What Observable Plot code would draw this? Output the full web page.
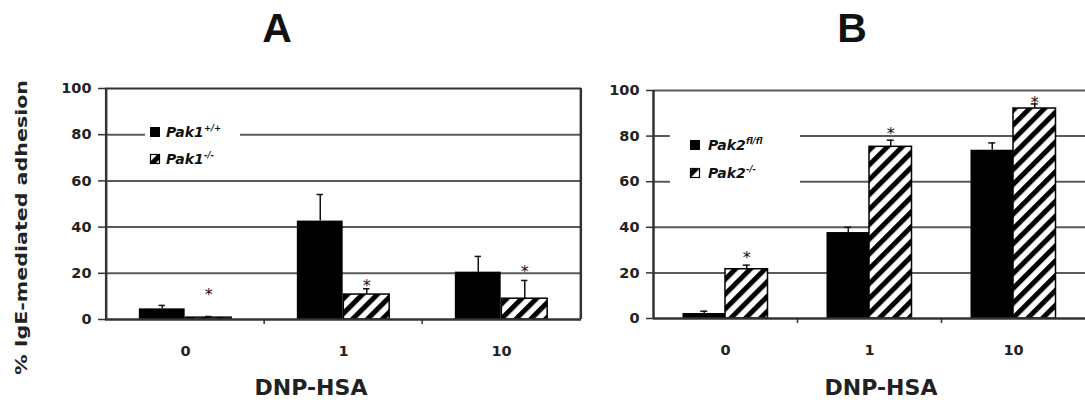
<!DOCTYPE html>
<html><head><meta charset="utf-8">
<script src="https://cdn.jsdelivr.net/npm/d3@7"></script>
<script src="https://cdn.jsdelivr.net/npm/@observablehq/plot@0.6"></script>
<style>
body{margin:0;background:#fff;}
#wrap{position:relative;width:1085px;height:407px;overflow:hidden;background:#fff;}
#wrap > svg{position:absolute;top:0;}
</style></head><body>
<div id="wrap"></div>
<script>
// ---- data ----
const doses = ["0", "1", "10"];
const pak1WT = [4.6, 42.6, 20.5];
const pak1WTErr = [1.5, 11.5, 6.8];
const pak1KO = [0.8, 10.8, 9.0];
const pak1KOErr = [0.5, 2.5, 7.9];
const pak1Stars = [12.6, 16.1, 22.4];
const pak2WT = [2.2, 37.7, 73.8];
const pak2WTErr = [1.0, 2.3, 3.2];
const pak2KO = [21.6, 75.3, 92.1];
const pak2KOErr = [1.8, 2.9, 2.0];
const pak2Stars = [28.5, 82.6, 96.3];
const yTicks = [0, 20, 40, 60, 80, 100];
const gridValues = [20, 40, 60, 80];
const panelTitles = ["A", "B"];
const yLabel = "% IgE-mediated adhesion";
const xLabel = "DNP-HSA";
const legendA = [["Pak1", "+/+"], ["Pak1", "-/-"]];
const legendB = [["Pak2", "fl/fl"], ["Pak2", "-/-"]];

const wrap = document.getElementById("wrap");
const NS = "http://www.w3.org/2000/svg";

function panel(o) {
  const {wt, wtErr, ko, koErr, stars, width, left, marginLeft, marginRight, marginTop, marginBottom, barWidth, topColor, rightBorder} = o;
  const step = (width - marginLeft - marginRight) / doses.length;
  const rows = doses.map((d, i) => ({dose: d, wt: wt[i], wtTop: wt[i] + wtErr[i], ko: ko[i], koTop: ko[i] + koErr[i], star: stars[i]}));
  const outer = (step - 2 * barWidth) / 2;
  const half = step / 2;
  const cap = (step - 7) / 2;
  const marks = [
    Plot.ruleY(gridValues, {stroke: "#5a5a5a", strokeWidth: 2}),
    Plot.ruleY([100], {stroke: topColor, strokeWidth: 2}),
    Plot.barY(rows, {x: "dose", y: "wt", fill: "#000", insetLeft: outer, insetRight: half}),
    Plot.barY(rows, {x: "dose", y: "ko", fill: "url(#hatch)", stroke: "#000", strokeWidth: 1.5, insetLeft: half, insetRight: outer}),
    Plot.ruleX(rows, {x: "dose", y1: "wt", y2: "wtTop", dx: -barWidth / 2, stroke: "#111", strokeWidth: 1.5}),
    Plot.tickY(rows, {x: "dose", y: "wtTop", dx: -barWidth / 2, insetLeft: cap, insetRight: cap, stroke: "#111", strokeWidth: 1.5}),
    Plot.ruleX(rows, {x: "dose", y1: "ko", y2: "koTop", dx: barWidth / 2, stroke: "#111", strokeWidth: 1.5}),
    Plot.tickY(rows, {x: "dose", y: "koTop", dx: barWidth / 2, insetLeft: cap, insetRight: cap, stroke: "#111", strokeWidth: 1.5}),
    Plot.text(rows, {x: "dose", y: "star", text: () => "*", dx: barWidth / 2, dy: 4, fontSize: 16, fontWeight: "normal", lineAnchor: "middle", fill: "#111"}),
    Plot.ruleY([0], {stroke: "#333", strokeWidth: 2.5}),
    Plot.ruleX([doses[0]], {x: d => d, dx: -half, y1: 0, y2: 100, stroke: "#333", strokeWidth: 2.5}),
    Plot.ruleX(doses.slice(1), {x: d => d, dx: -half, y1: 0, y2: 0, insetBottom: -5, stroke: "#333", strokeWidth: 1.5}),
    Plot.axisY({ticks: yTicks, tickSize: 7, tickPadding: 7, stroke: "#333", strokeWidth: 1.5, fontSize: 14.5, fontWeight: "bold", fill: "#222"}),
    Plot.axisX({tickSize: 0, tickPadding: 26, fontSize: 14.5, fontWeight: "bold", fill: "#222"})
  ];
  if (rightBorder) marks.push(Plot.ruleX([doses[doses.length - 1]], {x: d => d, dx: half, y1: 0, y2: 100, stroke: "#333", strokeWidth: 2.5}));
  const svg = Plot.plot({
    width, height: 407, marginLeft, marginRight, marginTop, marginBottom,
    x: {type: "band", domain: doses, padding: 0, label: null},
    y: {domain: [0, 100], label: null},
    style: {fontFamily: "DejaVu Sans", fontSize: "14.5px", fontWeight: "bold", background: "transparent", overflow: "visible"},
    marks
  });
  svg.style.left = left + "px";
  wrap.appendChild(svg);
}

panel({wt: pak1WT, wtErr: pak1WTErr, ko: pak1KO, koErr: pak1KOErr, stars: pak1Stars,
  width: 600, left: 0, marginLeft: 105, marginRight: 19, marginTop: 88, marginBottom: 88, barWidth: 46.5, topColor: "#333", rightBorder: true});
panel({wt: pak2WT, wtErr: pak2WTErr, ko: pak2KO, koErr: pak2KOErr, stars: pak2Stars,
  width: 485, left: 600, marginLeft: 53, marginRight: 0, marginTop: 90, marginBottom: 89, barWidth: 42.5, topColor: "#5a5a5a", rightBorder: false});

// ---- overlay: titles, axis titles, legends ----
const ov = document.createElementNS(NS, "svg");
ov.setAttribute("width", 1085); ov.setAttribute("height", 407);
ov.style.left = "0px";
ov.innerHTML = `
<defs>
<pattern id="hatch" patternUnits="userSpaceOnUse" width="10.5" height="10.5" patternTransform="rotate(45)">
<rect width="10.5" height="10.5" fill="#fff"/>
<rect width="5" height="10.5" fill="#000"/>
</pattern>
</defs>`;
function add(tag, attrs, text) {
  const el = document.createElementNS(NS, tag);
  for (const k in attrs) el.setAttribute(k, attrs[k]);
  if (text != null) el.textContent = text;
  ov.appendChild(el);
  return el;
}
// panel titles
add("text", {x: 277, y: 42, "text-anchor": "middle", "font-family": "Liberation Sans, Arial", "font-weight": "bold", "font-size": 41, fill: "#111"}, panelTitles[0]);
add("text", {x: 852, y: 42, "text-anchor": "middle", "font-family": "Liberation Sans, Arial", "font-weight": "bold", "font-size": 41, fill: "#111"}, panelTitles[1]);
// y label
add("text", {x: 27, y: 227.5, transform: "rotate(-90 27 227.5)", "text-anchor": "middle", "font-family": "DejaVu Sans", "font-weight": "bold", "font-size": 16, fill: "#222", textLength: 295, lengthAdjust: "spacingAndGlyphs"}, yLabel);
// x labels
add("text", {x: 311, y: 395, "text-anchor": "middle", "font-family": "DejaVu Sans", "font-weight": "bold", "font-size": 22, fill: "#222"}, xLabel);
add("text", {x: 881, y: 395, "text-anchor": "middle", "font-family": "DejaVu Sans", "font-weight": "bold", "font-size": 22, fill: "#222"}, xLabel);
// legends
function legend(box, sx, textX, rowsY, items) {
  add("rect", {x: box[0], y: box[1], width: box[2], height: box[3], fill: "#fff"});
  items.forEach(([name, sup], i) => {
    const cy = rowsY[i];
    if (i === 0) add("rect", {x: sx, y: cy - 5, width: 10, height: 10, fill: "#000"});
    else add("rect", {x: sx + 0.5, y: cy - 4.5, width: 9, height: 9, fill: "url(#hatch)", stroke: "#000", "stroke-width": 1.2});
    const t = add("text", {x: textX, y: cy + 5, "font-family": "DejaVu Sans", "font-weight": "bold", "font-style": "italic", "font-size": 14, fill: "#111"});
    const a = document.createElementNS(NS, "tspan"); a.textContent = name; t.appendChild(a);
    const b = document.createElementNS(NS, "tspan"); b.textContent = sup;
    b.setAttribute("font-size", 8.5); b.setAttribute("dy", -6); t.appendChild(b);
  });
}
legend([145, 117, 95, 55], 150, 166, [132, 159], legendA);
legend([670, 124, 130, 68], 690, 708, [145, 173], legendB);
wrap.appendChild(ov);
</script>
</body></html>
